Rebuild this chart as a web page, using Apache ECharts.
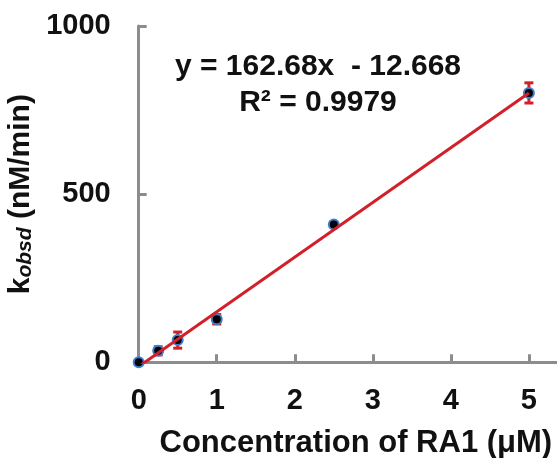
<!DOCTYPE html>
<html>
<head>
<meta charset="utf-8">
<script src="https://cdn.jsdelivr.net/npm/echarts@6/dist/echarts.min.js"></script>
<style>
html,body{margin:0;padding:0;background:#fff;}
#chart{width:557px;height:458px;}
</style>
</head>
<body>
<div id="chart"></div>
<script>
// Data
const concentrations = [0, 0.25, 0.5, 1, 2.5, 5];
const kObsd = [0, 34, 66, 128, 410, 801];
const kErrors = [0, 12, 24, 14, 4, 30];
const xTickLabels = [0, 1, 2, 3, 4, 5];
const yTickLabels = [0, 500, 1000];
const fitSlope = 162.68;
const fitIntercept = -12.668;
const fitR2 = 0.9979;
const fitRange = [0, 5];

const FONT = "'Liberation Sans', Arial, sans-serif";
const axisGrey = '#8c8c8c';
const red = '#d2202a';

const points = concentrations.map((x, i) => [x, kObsd[i]]);
const errData = concentrations.map((x, i) => [x, kObsd[i], kErrors[i]]);
const fitLine = fitRange.map(x => [x, fitSlope * x + fitIntercept]);

const chart = echarts.init(document.getElementById('chart'), null, {renderer: 'canvas'});
chart.setOption({
  backgroundColor: '#fff',
  animation: false,
  grid: {left: 138.7, top: 26, right: 0, bottom: 95.7, outerBoundsMode: 'none'},
  xAxis: {
    type: 'value', min: 0, max: 5.36,
    splitLine: {show: false},
    axisLine: {show: true, onZero: false, lineStyle: {color: axisGrey, width: 3}},
    axisTick: {show: true, inside: true, length: 8, customValues: xTickLabels.filter(v => v > 0), lineStyle: {color: axisGrey, width: 3}},
    axisLabel: {customValues: xTickLabels, margin: 24, fontSize: 29, fontWeight: 'bold', color: '#111', fontFamily: FONT,
      formatter: v => String(v)},
    name: 'Concentration of RA1 (μM)',
    nameLocation: 'middle', nameGap: 66,
    nameTextStyle: {fontSize: 31, fontWeight: 'bold', color: '#111', fontFamily: FONT, padding: [0, 0, 0, 16]}
  },
  yAxis: {
    type: 'value', min: 0, max: 1000, interval: 500,
    splitLine: {show: false},
    axisLine: {show: true, onZero: false, lineStyle: {color: axisGrey, width: 3}},
    axisTick: {show: true, inside: true, length: 8, lineStyle: {color: axisGrey, width: 3}},
    axisLabel: {customValues: yTickLabels, margin: 28, fontSize: 29, fontWeight: 'bold', color: '#111', fontFamily: FONT,
      formatter: v => String(v)},
    name: '{k|k}{sub|obsd}{k| (nM/min)}',
    nameLocation: 'middle', nameGap: 88, nameRotate: 90,
    nameTextStyle: {
      fontFamily: FONT,
      rich: {
        k: {fontSize: 30, fontWeight: 'bold', color: '#111', fontFamily: FONT, verticalAlign: 'bottom', lineHeight: 34},
        sub: {fontSize: 21, fontWeight: 'bold', fontStyle: 'italic', color: '#111', fontFamily: FONT, verticalAlign: 'bottom', lineHeight: 30}
      }
    }
  },
  series: [
    {
      type: 'custom',
      z: 2,
      data: errData,
      clip: false,
      renderItem: function (params, api) {
        const x = api.value(0), y = api.value(1), e = api.value(2);
        if (!e) return null;
        const top = api.coord([x, y + e]);
        const bot = api.coord([x, y - e]);
        const w = 4.5;
        const style = {stroke: red, lineWidth: 3};
        return {
          type: 'group',
          children: [
            {type: 'line', shape: {x1: top[0], y1: top[1], x2: bot[0], y2: bot[1]}, style: style},
            {type: 'line', shape: {x1: top[0] - w, y1: top[1], x2: top[0] + w, y2: top[1]}, style: style},
            {type: 'line', shape: {x1: bot[0] - w, y1: bot[1], x2: bot[0] + w, y2: bot[1]}, style: style}
          ]
        };
      }
    },
    {
      type: 'scatter',
      z: 3,
      data: points,
      symbol: 'circle',
      symbolSize: 10,
      clip: false,
      itemStyle: {color: '#000', borderColor: '#3c7fd0', borderWidth: 2, opacity: 1}
    },
    {
      type: 'line',
      z: 4,
      data: fitLine,
      symbol: 'none',
      clip: true,
      lineStyle: {color: red, width: 3},
      silent: true
    }
  ],
  graphic: [
    {
      type: 'text', x: 318, y: 67,
      style: {text: 'y = ' + fitSlope + 'x  - ' + Math.abs(fitIntercept), fontSize: 30, fontWeight: 'bold', fill: '#111', fontFamily: FONT, align: 'center', verticalAlign: 'middle'}
    },
    {
      type: 'text', x: 318, y: 103,
      style: {text: 'R² = ' + fitR2, fontSize: 30, fontWeight: 'bold', fill: '#111', fontFamily: FONT, align: 'center', verticalAlign: 'middle'}
    }
  ]
});
</script>
</body>
</html>
